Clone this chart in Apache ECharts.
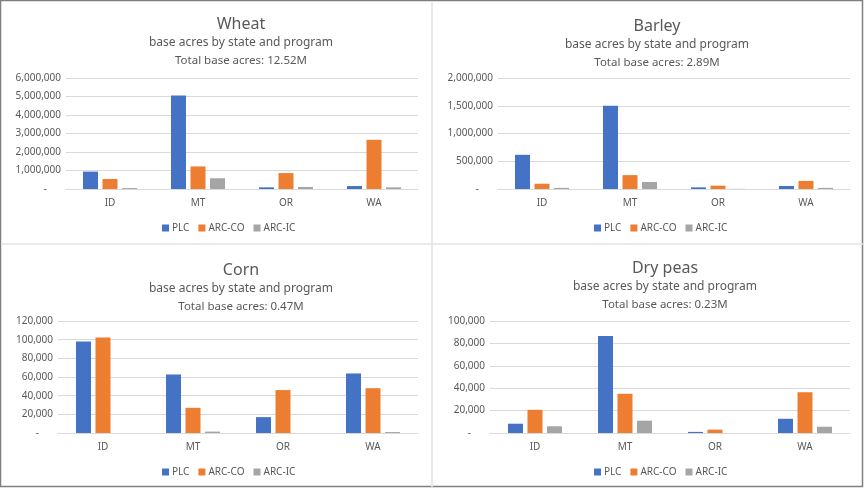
<!DOCTYPE html>
<html>
  <head>
    <meta charset="UTF-8">
    <script src="https://cdn.jsdelivr.net/npm/echarts@6/dist/echarts.min.js"></script>
    <title>Base acres by state and program</title>
    <style>
      html, body { margin: 0; padding: 0; background: #fff; }
    </style>
  </head>
  <body>
    <div id="main" style="width: 864px;height:488px;"></div>
  </body>

  <script>
    // data
    var states = ['ID', 'MT', 'OR', 'WA'];
    var programs = ['PLC', 'ARC-CO', 'ARC-IC'];
    var colors = ['#4472C4', '#ED7D31', '#A5A5A5'];

    var wheatPLC   = [940000, 5050000, 90000, 160000];
    var wheatARCCO = [540000, 1220000, 860000, 2660000];
    var wheatARCIC = [50000, 580000, 110000, 90000];

    var barleyPLC   = [616000, 1500000, 30000, 55000];
    var barleyARCCO = [95000, 250000, 60000, 145000];
    var barleyARCIC = [20000, 126000, 3000, 20000];

    var cornPLC   = [98000, 62700, 17000, 63800];
    var cornARCCO = [102300, 27000, 46000, 48000];
    var cornARCIC = [0, 1500, 0, 1000];

    var peasPLC   = [8300, 86600, 1000, 12700];
    var peasARCCO = [20700, 35000, 3000, 36400];
    var peasARCIC = [6000, 11000, 0, 5600];

    var panelTitles = ['Wheat', 'Barley', 'Corn', 'Dry peas'];
    var totals = ['12.52M', '2.89M', '0.47M', '0.23M'];
    var axisMax = [6000000, 2000000, 120000, 100000];
    var axisStep = [1000000, 500000, 20000, 20000];

    var panelData = [
      [wheatPLC, wheatARCCO, wheatARCIC],
      [barleyPLC, barleyARCCO, barleyARCIC],
      [cornPLC, cornARCCO, cornARCIC],
      [peasPLC, peasARCCO, peasARCIC]
    ];

    var font = 'Noto Sans';
    var textGray = '#595959';

    // layout of each panel: grid box and title centre
    var grids = [
      {left: 66, top: 78, width: 352, height: 111},
      {left: 498, top: 78, width: 352, height: 111},
      {left: 58, top: 321, width: 360, height: 112},
      {left: 490, top: 321, width: 360, height: 112}
    ];
    var titlePos = [
      {x: 236, y: 9},
      {x: 652, y: 11},
      {x: 236, y: 255},
      {x: 660, y: 253}
    ];
    var legendTop = [218, 218, 462, 462];
    var legendLeft = [157, 589, 157, 589];

    var myChart = echarts.init(document.getElementById('main'));

    var title = [], legend = [], xAxis = [], yAxis = [], series = [];

    for (var p = 0; p < 4; p++) {
      title.push({
        left: titlePos[p].x,
        top: titlePos[p].y,
        textAlign: 'center',
        text: '{t|' + panelTitles[p] + '}\n{s|base acres by state and program}\n{u|Total base acres: ' + totals[p] + '}',
        textStyle: {
          fontWeight: 'normal',
          rich: {
            t: {fontFamily: font, fontSize: 16, fontWeight: 'normal', color: textGray, lineHeight: 20, align: 'center'},
            s: {fontFamily: font, fontSize: 12, fontWeight: 'normal', color: textGray, lineHeight: 18, align: 'center'},
            u: {fontFamily: font, fontSize: 11.5, fontWeight: 'normal', color: textGray, lineHeight: 17, align: 'center'}
          }
        }
      });

      legend.push({
        left: legendLeft[p],
        top: legendTop[p],
        itemWidth: 7,
        itemHeight: 7,
        itemGap: 9,
        icon: 'rect',
        data: programs,
        textStyle: {fontFamily: font, fontSize: 10, color: textGray, padding: [0, 0, 0, -2]}
      });

      xAxis.push({
        gridIndex: p,
        type: 'category',
        data: states,
        axisTick: {show: false},
        axisLine: {lineStyle: {color: '#D9D9D9'}},
        axisLabel: {fontFamily: font, fontSize: 10, color: textGray, margin: 9}
      });

      yAxis.push({
        gridIndex: p,
        type: 'value',
        min: 0,
        max: axisMax[p],
        interval: axisStep[p],
        axisLine: {show: false},
        axisTick: {show: false},
        splitLine: {lineStyle: {color: '#D9D9D9'}},
        axisLabel: {
          fontFamily: font, fontSize: 10, color: textGray, margin: 5,
          formatter: function (v) {
            return v === 0 ? '{z|-}' : v.toLocaleString('en-US');
          },
          rich: {z: {fontFamily: font, fontSize: 10, color: textGray, padding: [0, 14, 0, 0]}}
        }
      });

      for (var s = 0; s < 3; s++) {
        series.push({
          name: programs[s],
          type: 'bar',
          xAxisIndex: p,
          yAxisIndex: p,
          barWidth: 15,
          barGap: '30%',
          itemStyle: {color: colors[s]},
          data: panelData[p][s]
        });
      }
    }

    option = {
      animation: false,
      color: colors,
      title: title,
      legend: legend,
      grid: grids,
      xAxis: xAxis,
      yAxis: yAxis,
      series: series,
      graphic: [
        {type: 'rect', shape: {x: 0.5, y: 0.5, width: 862, height: 486}, style: {fill: 'none', stroke: '#7F7F7F', lineWidth: 1.5}},
        {type: 'line', shape: {x1: 432, y1: 1, x2: 432, y2: 487}, style: {stroke: '#E3E3E3', lineWidth: 1.5}},
        {type: 'line', shape: {x1: 1, y1: 244, x2: 863, y2: 244}, style: {stroke: '#E3E3E3', lineWidth: 1.5}}
      ]
    };

    myChart.setOption(option);
  </script>
</html>
